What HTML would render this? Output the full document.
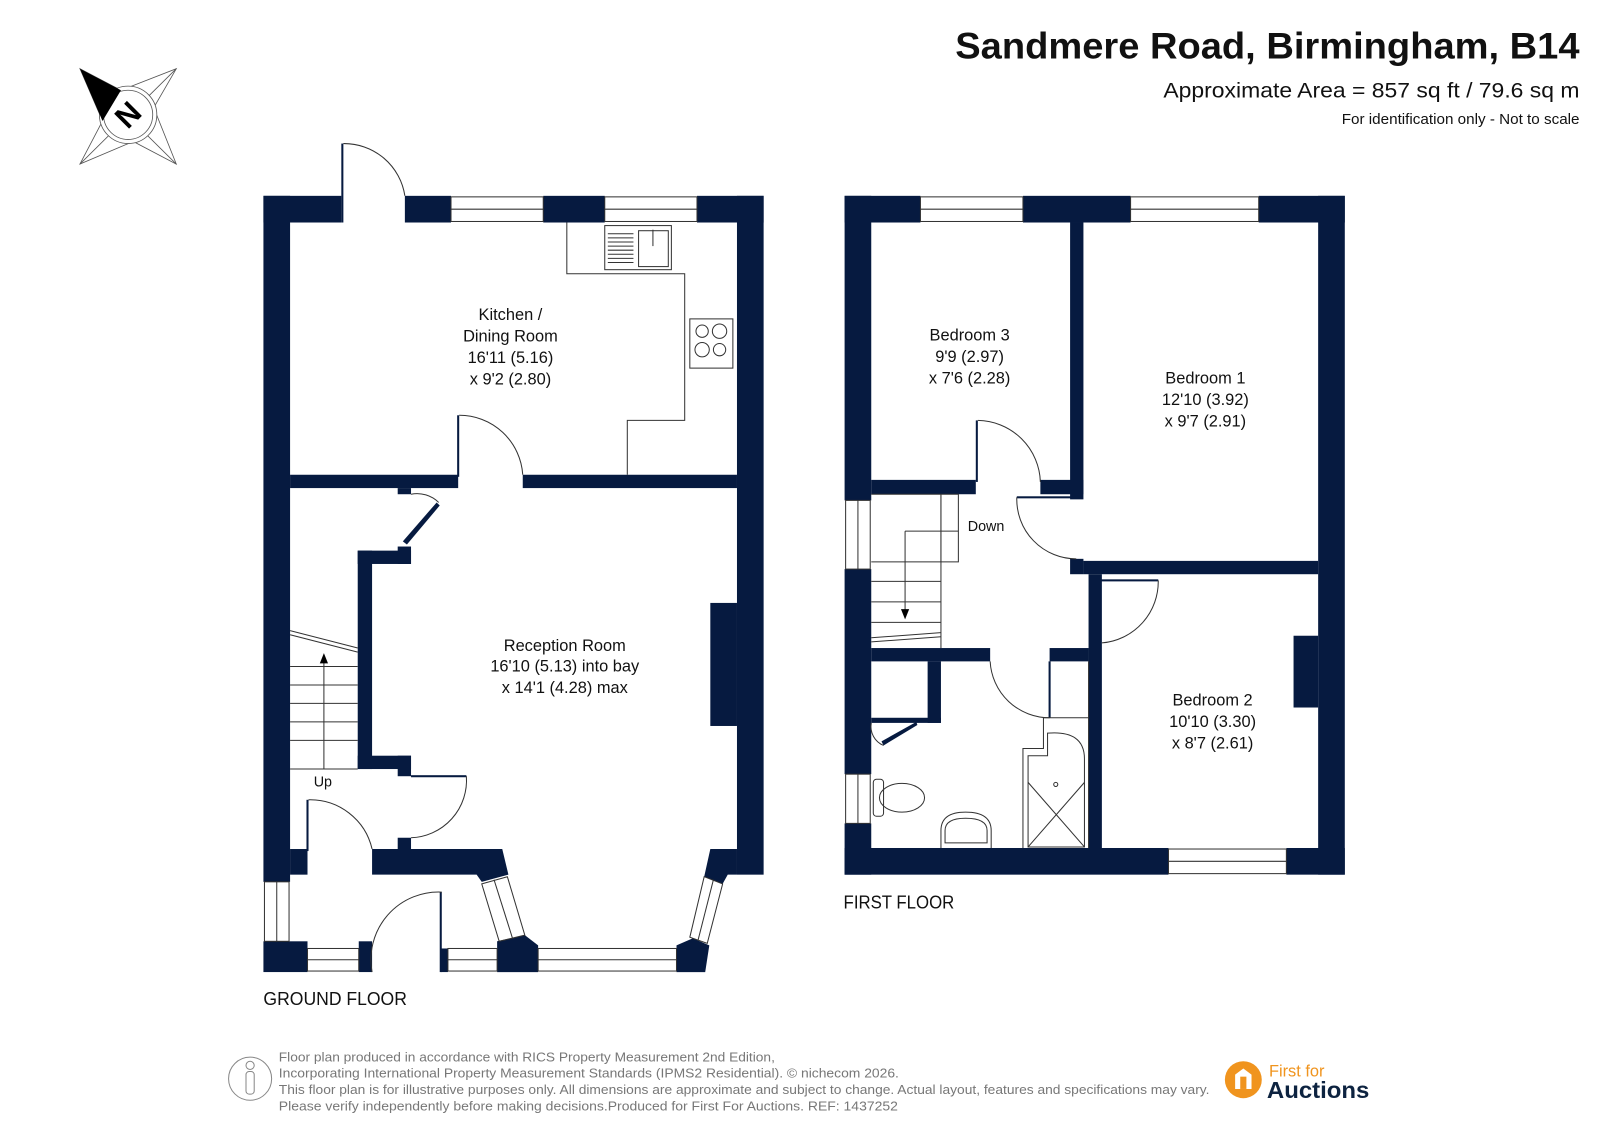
<!DOCTYPE html>
<html><head><meta charset="utf-8"><style>
html,body{margin:0;padding:0;background:#fff;}
svg{display:block;}
text{font-family:"Liberation Sans",sans-serif;}
</style></head><body>
<svg width="1599" height="1131" viewBox="0 0 1560 1103" preserveAspectRatio="none" xmlns="http://www.w3.org/2000/svg">
<g fill="none" stroke="#555" stroke-width="0.8">
<line x1="78" y1="67" x2="172" y2="160"/><line x1="172" y1="67" x2="78" y2="160"/>
<polygon points="78,67 118,88 172,67 150,105 172,160 130,138 78,160 100,118"/>
<circle cx="125" cy="112" r="28" fill="#fff"/><circle cx="125" cy="112" r="24"/>
</g>
<polygon points="78,67 118,88 100,118" fill="#000"/>
<text x="125" y="112" font-size="30" font-weight="bold" text-anchor="middle" dominant-baseline="central" transform="rotate(-45 125 112)">N</text>

<text x="932" y="57" font-size="36" font-weight="bold" fill="#111" textLength="609" lengthAdjust="spacingAndGlyphs">Sandmere Road, Birmingham, B14</text>
<text x="1135" y="95" font-size="21" fill="#111" textLength="406" lengthAdjust="spacingAndGlyphs">Approximate Area = 857 sq ft / 79.6 sq m</text>
<text x="1309" y="121" font-size="14" fill="#111" textLength="232" lengthAdjust="spacingAndGlyphs">For identification only - Not to scale</text>

<!-- GROUND FLOOR -->
<g fill="#061a40">
<rect x="257" y="191" width="76" height="26"/>
<rect x="395" y="191" width="45" height="26"/>
<rect x="530" y="191" width="60" height="26"/>
<rect x="680" y="191" width="65" height="26"/>
<rect x="257" y="191" width="26" height="669"/>
<rect x="719" y="191" width="26" height="662"/>
<rect x="283" y="463" width="164" height="13"/>
<rect x="510" y="463" width="209" height="13"/>
<rect x="388" y="476" width="13" height="6"/>
<rect x="349" y="537" width="14" height="213"/>
<rect x="349" y="537" width="52" height="13"/>
<rect x="388" y="533" width="13" height="17"/>
<rect x="349" y="737" width="52" height="13"/>
<rect x="388" y="737" width="13" height="20"/>
<rect x="388" y="817" width="13" height="13"/>
<rect x="283" y="828" width="17" height="25"/>
<polygon points="363,828 490,828 496,853 470,860 465,853 363,853"/>
<polygon points="693,828 719,828 719,853 710,853 705,862 687,855"/>
<rect x="693" y="588" width="26" height="120"/>
<rect x="257" y="918" width="43" height="30"/>
<rect x="350" y="918" width="13" height="30"/>
<rect x="430" y="925" width="7" height="23"/>
<polygon points="485,918 512,912 525,922 525,948 485,948"/>
<polygon points="660,922 676,915 692,922 688,948 660,948"/>
<rect x="333" y="140" width="2" height="77"/>
<rect x="446" y="405" width="2" height="60"/>
<rect x="299" y="780" width="2" height="50"/>
<rect x="429" y="870" width="2" height="78"/>
<rect x="401" y="756" width="54" height="2"/>
<polygon points="393,528 426,490 429,493 397,531"/>
</g>
<g fill="none" stroke="#333" stroke-width="1">
<rect x="440" y="192" width="90" height="24"/><line x1="440" y1="204" x2="530" y2="204"/>
<rect x="590" y="192" width="90" height="24"/><line x1="590" y1="204" x2="680" y2="204"/>
<rect x="258" y="860" width="24" height="58"/><line x1="270" y1="860" x2="270" y2="918"/>
<rect x="300" y="925" width="50" height="22"/><line x1="300" y1="936" x2="350" y2="936"/>
<rect x="437" y="925" width="48" height="22"/><line x1="437" y1="936" x2="485" y2="936"/>
<rect x="525" y="925" width="135" height="22"/><line x1="525" y1="936" x2="660" y2="936"/>
<polygon points="470,862 495,855 512,912 487,918"/><line x1="482" y1="858" x2="500" y2="915"/>
<polygon points="687,855 705,862 690,920 673,914"/><line x1="696" y1="858" x2="681" y2="917"/>
<path d="M335,140 A60,60 0 0 1 395,191"/>
<path d="M448,405 A62,62 0 0 1 510,463"/>
<path d="M301,780 A62,62 0 0 1 363,828"/>
<path d="M431,870 A66,66 0 0 0 363,948"/>
<path d="M455,757 A56,56 0 0 1 401,817"/>
<path d="M401,482 A30,30 0 0 1 428,490"/>
<polyline points="553,217 553,267 668,267 668,410 612,410 612,463"/>
<rect x="590" y="220" width="65" height="43"/>
<rect x="623" y="225" width="29" height="35"/>
<rect x="673" y="311" width="42" height="48"/>
<circle cx="685" cy="323" r="6"/><circle cx="702" cy="323" r="7"/><circle cx="685" cy="341" r="7"/><circle cx="702" cy="341" r="6"/>
<line x1="283" y1="615" x2="349" y2="632"/><line x1="283" y1="619" x2="349" y2="636"/>
<line x1="283" y1="650" x2="349" y2="650"/><line x1="283" y1="668" x2="349" y2="668"/>
<line x1="283" y1="686" x2="349" y2="686"/><line x1="283" y1="704" x2="349" y2="704"/>
<line x1="283" y1="722" x2="349" y2="722"/><line x1="283" y1="750" x2="349" y2="750"/>
<line x1="316" y1="750" x2="316" y2="642"/>
</g>
<g stroke="#333" stroke-width="1">
<line x1="593" y1="228" x2="618" y2="228"/><line x1="593" y1="232" x2="618" y2="232"/><line x1="593" y1="236" x2="618" y2="236"/><line x1="593" y1="240" x2="618" y2="240"/><line x1="593" y1="244" x2="618" y2="244"/><line x1="593" y1="248" x2="618" y2="248"/><line x1="593" y1="252" x2="618" y2="252"/><line x1="593" y1="256" x2="618" y2="256"/>
<line x1="637" y1="224" x2="637" y2="240"/>
</g>
<polygon points="316,637 312,647 320,647" fill="#000"/>
<g font-size="16" fill="#111" text-anchor="middle">
<text x="498" y="312">Kitchen /</text><text x="498" y="333">Dining Room</text><text x="498" y="354">16'11 (5.16)</text><text x="498" y="375">x 9'2 (2.80)</text>
<text x="551" y="635">Reception Room</text><text x="551" y="655">16'10 (5.13) into bay</text><text x="551" y="676">x 14'1 (4.28) max</text>
<text x="315" y="767" font-size="14">Up</text>
</g>
<text x="257" y="980" font-size="18" fill="#111" textLength="140" lengthAdjust="spacingAndGlyphs">GROUND FLOOR</text>

<!-- FIRST FLOOR -->
<g fill="#061a40">
<rect x="824" y="191" width="74" height="26"/>
<rect x="998" y="191" width="105" height="26"/>
<rect x="1228" y="191" width="84" height="26"/>
<rect x="824" y="191" width="26" height="297"/>
<rect x="824" y="555" width="26" height="200"/>
<rect x="824" y="803" width="26" height="50"/>
<rect x="1286" y="191" width="26" height="662"/>
<rect x="824" y="827" width="316" height="26"/>
<rect x="1255" y="827" width="57" height="26"/>
<rect x="1044" y="217" width="13" height="270"/>
<rect x="850" y="468" width="102" height="14"/>
<rect x="1015" y="468" width="42" height="14"/>
<rect x="992" y="484" width="58" height="2"/>
<rect x="1044" y="545" width="13" height="15"/>
<rect x="1057" y="547" width="229" height="13"/>
<rect x="1062" y="560" width="13" height="267"/>
<rect x="1065" y="565" width="65" height="2"/>
<rect x="850" y="632" width="116" height="13"/>
<rect x="1024" y="632" width="38" height="13"/>
<rect x="1023" y="645" width="2" height="55"/>
<rect x="905" y="645" width="13" height="60"/>
<rect x="850" y="700" width="68" height="5"/>
<rect x="952" y="410" width="2" height="60"/>
<rect x="1262" y="620" width="24" height="70"/>
<polygon points="860,723 894,704 895,707 862,727"/>
</g>
<g fill="none" stroke="#333" stroke-width="1">
<rect x="898" y="192" width="100" height="24"/><line x1="898" y1="204" x2="998" y2="204"/>
<rect x="1103" y="192" width="125" height="24"/><line x1="1103" y1="204" x2="1228" y2="204"/>
<rect x="1140" y="828" width="115" height="24"/><line x1="1140" y1="840" x2="1255" y2="840"/>
<rect x="825" y="488" width="24" height="67"/><line x1="837" y1="488" x2="837" y2="555"/>
<rect x="825" y="755" width="24" height="48"/><line x1="837" y1="755" x2="837" y2="803"/>
<path d="M954,410 A62,62 0 0 1 1015,470"/>
<path d="M992,485 A58,58 0 0 0 1050,545"/>
<path d="M1130,566 A60,60 0 0 1 1075,627"/>
<path d="M966,645 A58,58 0 0 0 1024,700"/>
<path d="M850,705 A20,20 0 0 0 862,727"/>
<line x1="918" y1="482" x2="918" y2="632"/>
<polyline points="850,482 935,482 935,548 850,548"/>
<line x1="918" y1="482" x2="918" y2="548"/>
<line x1="883" y1="518" x2="935" y2="518"/>
<line x1="850" y1="567" x2="918" y2="567"/><line x1="850" y1="587" x2="918" y2="587"/><line x1="850" y1="607" x2="918" y2="607"/>
<line x1="850" y1="622" x2="918" y2="617"/><line x1="850" y1="626" x2="918" y2="621"/>
<polyline points="883,518 883,600"/>
<line x1="1062" y1="645" x2="1062" y2="827"/>
<polyline points="998,827 998,730 1018,730 1018,700 1062,700"/>
<path d="M1003,826 L1003,737 L1022,737 L1022,715 Q1058,712 1058,740 L1058,826 Z"/>
<line x1="1003" y1="763" x2="1058" y2="826"/><line x1="1058" y1="763" x2="1003" y2="826"/>
<circle cx="1030" cy="765" r="2"/>
<rect x="852" y="760" width="10" height="36" rx="3"/>
<ellipse cx="880" cy="778" rx="22" ry="14"/>
<path d="M918,827 L918,810 Q918,792 942,792 Q967,792 967,810 L967,827"/>
<path d="M922,822 L922,810 Q922,798 942,798 Q963,798 963,810 L963,822 Z"/>
</g>
<polygon points="883,604 879,594 887,594" fill="#000"/>
<g font-size="16" fill="#111" text-anchor="middle">
<text x="946" y="332">Bedroom 3</text><text x="946" y="353">9'9 (2.97)</text><text x="946" y="374">x 7'6 (2.28)</text>
<text x="1176" y="374">Bedroom 1</text><text x="1176" y="395">12'10 (3.92)</text><text x="1176" y="416">x 9'7 (2.91)</text>
<text x="1183" y="688">Bedroom 2</text><text x="1183" y="709">10'10 (3.30)</text><text x="1183" y="730">x 8'7 (2.61)</text>
<text x="962" y="518" font-size="14">Down</text>
</g>
<text x="823" y="886" font-size="18" fill="#111" textLength="108" lengthAdjust="spacingAndGlyphs">FIRST FLOOR</text>

<!-- FOOTER -->
<g fill="none" stroke="#888" stroke-width="1">
<circle cx="244" cy="1052" r="21"/>
<circle cx="244" cy="1039" r="4"/>
<rect x="240" y="1045" width="8" height="22" rx="3"/>
</g>
<g font-size="12.5" fill="#777">
<text x="272" y="1035" textLength="484" lengthAdjust="spacingAndGlyphs">Floor plan produced in accordance with RICS Property Measurement 2nd Edition,</text>
<text x="272" y="1051" textLength="605" lengthAdjust="spacingAndGlyphs">Incorporating International Property Measurement Standards (IPMS2 Residential).   © nichecom 2026.</text>
<text x="272" y="1067" textLength="908" lengthAdjust="spacingAndGlyphs">This floor plan is for illustrative purposes only. All dimensions are approximate and subject to change. Actual layout, features and specifications may vary.</text>
<text x="272" y="1083" textLength="604" lengthAdjust="spacingAndGlyphs">Please verify independently before making decisions.Produced for First For Auctions.   REF:  1437252</text>
</g>
<circle cx="1213" cy="1053" r="18" fill="#f0941e"/>
<path d="M1205,1062 L1205,1048 L1213,1042 L1221,1048 L1221,1062 Z" fill="#fff"/>
<rect x="1210" y="1050" width="6" height="12" fill="#f0941e"/>
<text x="1238" y="1050" font-size="16" fill="#f0941e">First for</text>
<text x="1236" y="1071" font-size="23" font-weight="bold" fill="#0d2340" textLength="100" lengthAdjust="spacingAndGlyphs">Auctions</text>
</svg>
</body></html>
